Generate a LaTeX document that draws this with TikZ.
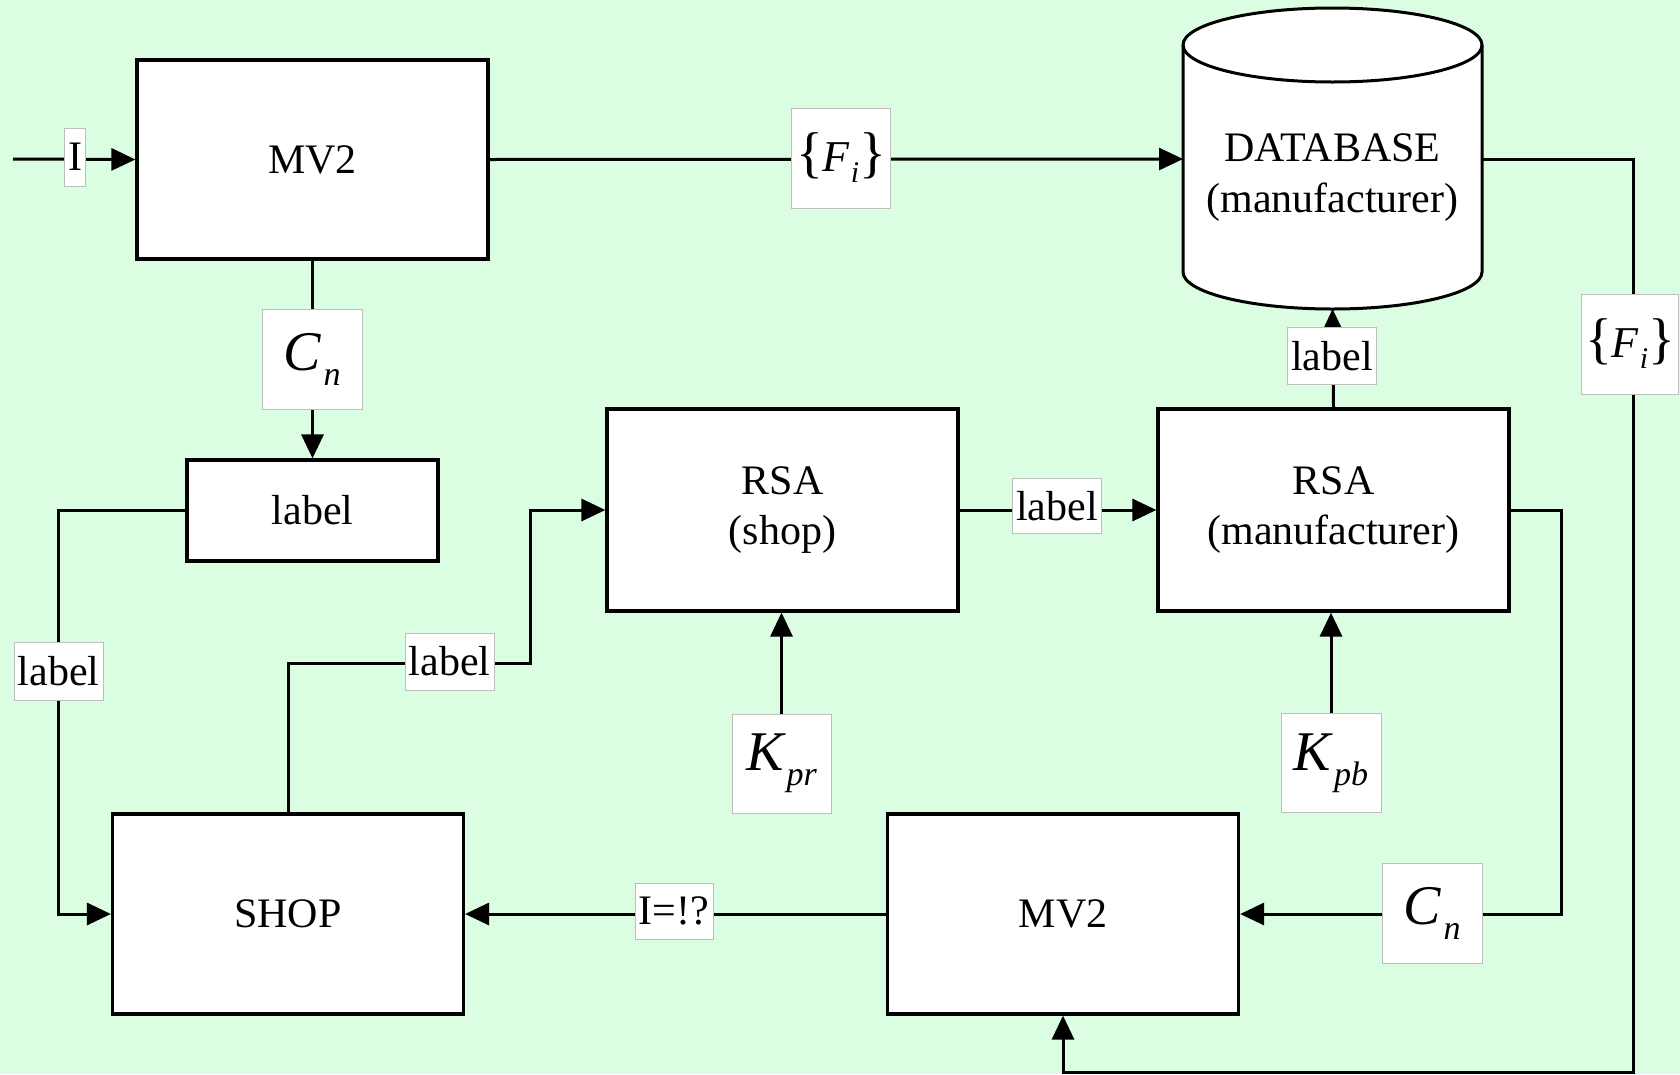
\documentclass[tikz,border=0pt]{standalone}
\usepackage{fontspec}
\setmainfont{Liberation Serif}
\usetikzlibrary{arrows.meta}
\definecolor{bgmint}{RGB}{219,253,226}
\definecolor{labgray}{RGB}{190,190,190}

% symbol with a lowered italic index, e.g. C_n, K_pr
\newcommand{\symidx}[2]{{\fontsize{56}{60}\selectfont\itshape #1}\kern3pt\raisebox{-15pt}{\fontsize{34}{40}\selectfont\itshape #2}}
% the set {F_i}
\newcommand{\fset}{{\fontsize{56}{60}\selectfont\{}{\fontsize{44}{50}\selectfont\itshape F}\kern1pt\raisebox{-11pt}{\fontsize{30}{36}\selectfont\itshape i}{\fontsize{56}{60}\selectfont\}}}

\begin{document}
\begin{tikzpicture}[x=1pt,y=-1pt,
  blk/.style={draw,fill=white,line width=3.2pt,inner sep=0pt,
    font=\fontsize{42}{44}\selectfont,align=center},
  tag/.style={draw=labgray,fill=white,line width=0.9pt,inner sep=0pt,
    font=\fontsize{42}{44}\selectfont},
  wire/.style={line width=3pt},
  arr/.style={wire,-{Triangle[length=24pt,width=22pt]}}]

\useasboundingbox (0,0) rectangle (1680,1074);
\fill[bgmint] (0,0) rectangle (1680,1074);

% processing blocks
\node[blk,minimum width=351pt,minimum height=199pt] (mv2t) at (312.5,159.5) {MV2};
\node[blk,minimum width=251pt,minimum height=101pt] (lbox) at (312.5,510.5) {label};
\node[blk,minimum width=351pt,minimum height=202pt] (rsas) at (782.5,510) {RSA\\[6pt](shop)};
\node[blk,minimum width=351pt,minimum height=202pt] (rsam) at (1333.5,510) {RSA\\[6pt](manufacturer)};
\node[blk,minimum width=351pt,minimum height=200pt] (shop) at (288,914) {SHOP};
\node[blk,minimum width=351pt,minimum height=200pt] (mv2b) at (1063,914) {MV2};

% database cylinder
\path[fill=white] (1183,45) -- (1183,272)
  arc[start angle=180,end angle=0,x radius=149.5,y radius=37]
  -- (1482,45) arc[start angle=0,end angle=-180,x radius=149.5,y radius=37] -- cycle;
\draw[line width=3pt] (1183,45) -- (1183,272)
  arc[start angle=180,end angle=0,x radius=149.5,y radius=37]
  -- (1482,45) arc[start angle=0,end angle=-180,x radius=149.5,y radius=37];
\draw[line width=3pt] (1183,45) arc[start angle=180,end angle=0,x radius=149.5,y radius=37];
\node[font=\fontsize{42}{44}\selectfont,align=center] (db) at (1332.5,178) {DATABASE\\[7pt](manufacturer)};
\coordinate (dbleft) at (1183,159);
\coordinate (dbright) at (1482,159);
\coordinate (dbbot) at (1332.5,309);
\coordinate (in) at (13,159);

% key inputs
\node[tag,minimum width=99pt,minimum height=99pt] (kpr) at (781.5,763.5) {\symidx{K}{pr}};
\node[tag,minimum width=100pt,minimum height=99pt] (kpb) at (1331,763) {\symidx{K}{pb}};

% connectors
\draw[arr] (in) -- (mv2t.west);
\draw[arr] (mv2t.east) -- (dbleft);
\draw[arr] (mv2t.south) -- (lbox.north);
\draw[arr] (lbox.west) -- ++(-127,0) |- (shop.west);
\draw[arr] (shop.north) -- ++(0,-149) -| ([xshift=-75pt]rsas.west) -- (rsas.west);
\draw[arr] (rsas.east) -- (rsam.west);
\draw[arr] (rsam.north) -- (dbbot);
\draw[arr] (kpr.north) -- (kpr.north |- rsas.south);
\draw[arr] (kpb.north) -- (kpb.north |- rsam.south);
\draw[arr] (rsam.east) -- ++(51,0) |- (mv2b.east);
\draw[arr] (mv2b.west) -- (shop.east);
\draw[arr] (dbright) -- ++(151,0) |- ([yshift=-57pt]mv2b.south) -- (mv2b.south);

% labels on the connectors
\node[tag,minimum width=21pt,minimum height=58pt] (tI) at (75,157) {I};
\node[tag,minimum width=99pt,minimum height=100pt] (tF1) at (841,158) {\fset};
\node[tag,minimum width=100pt,minimum height=100pt] (tC1) at (312,359) {\symidx{C}{n}};
\node[tag,minimum width=89pt,minimum height=58pt] (tleft) at (58.5,671) {label};
\node[tag,minimum width=89pt,minimum height=57pt] (tshop) at (449.5,661.5) {label};
\node[tag,minimum width=89pt,minimum height=55pt] (tmid) at (1057,506) {label};
\node[tag,minimum width=89pt,minimum height=57pt] (tup) at (1332,356) {label};
\node[tag,minimum width=100pt,minimum height=100pt] (tC2) at (1432,913) {\symidx{C}{n}};
\node[tag,minimum width=78pt,minimum height=56pt] (tIq) at (674,911) {I=!?};
\node[tag,minimum width=97pt,minimum height=100pt] (tF2) at (1630,344) {\fset};
\end{tikzpicture}
\end{document}
